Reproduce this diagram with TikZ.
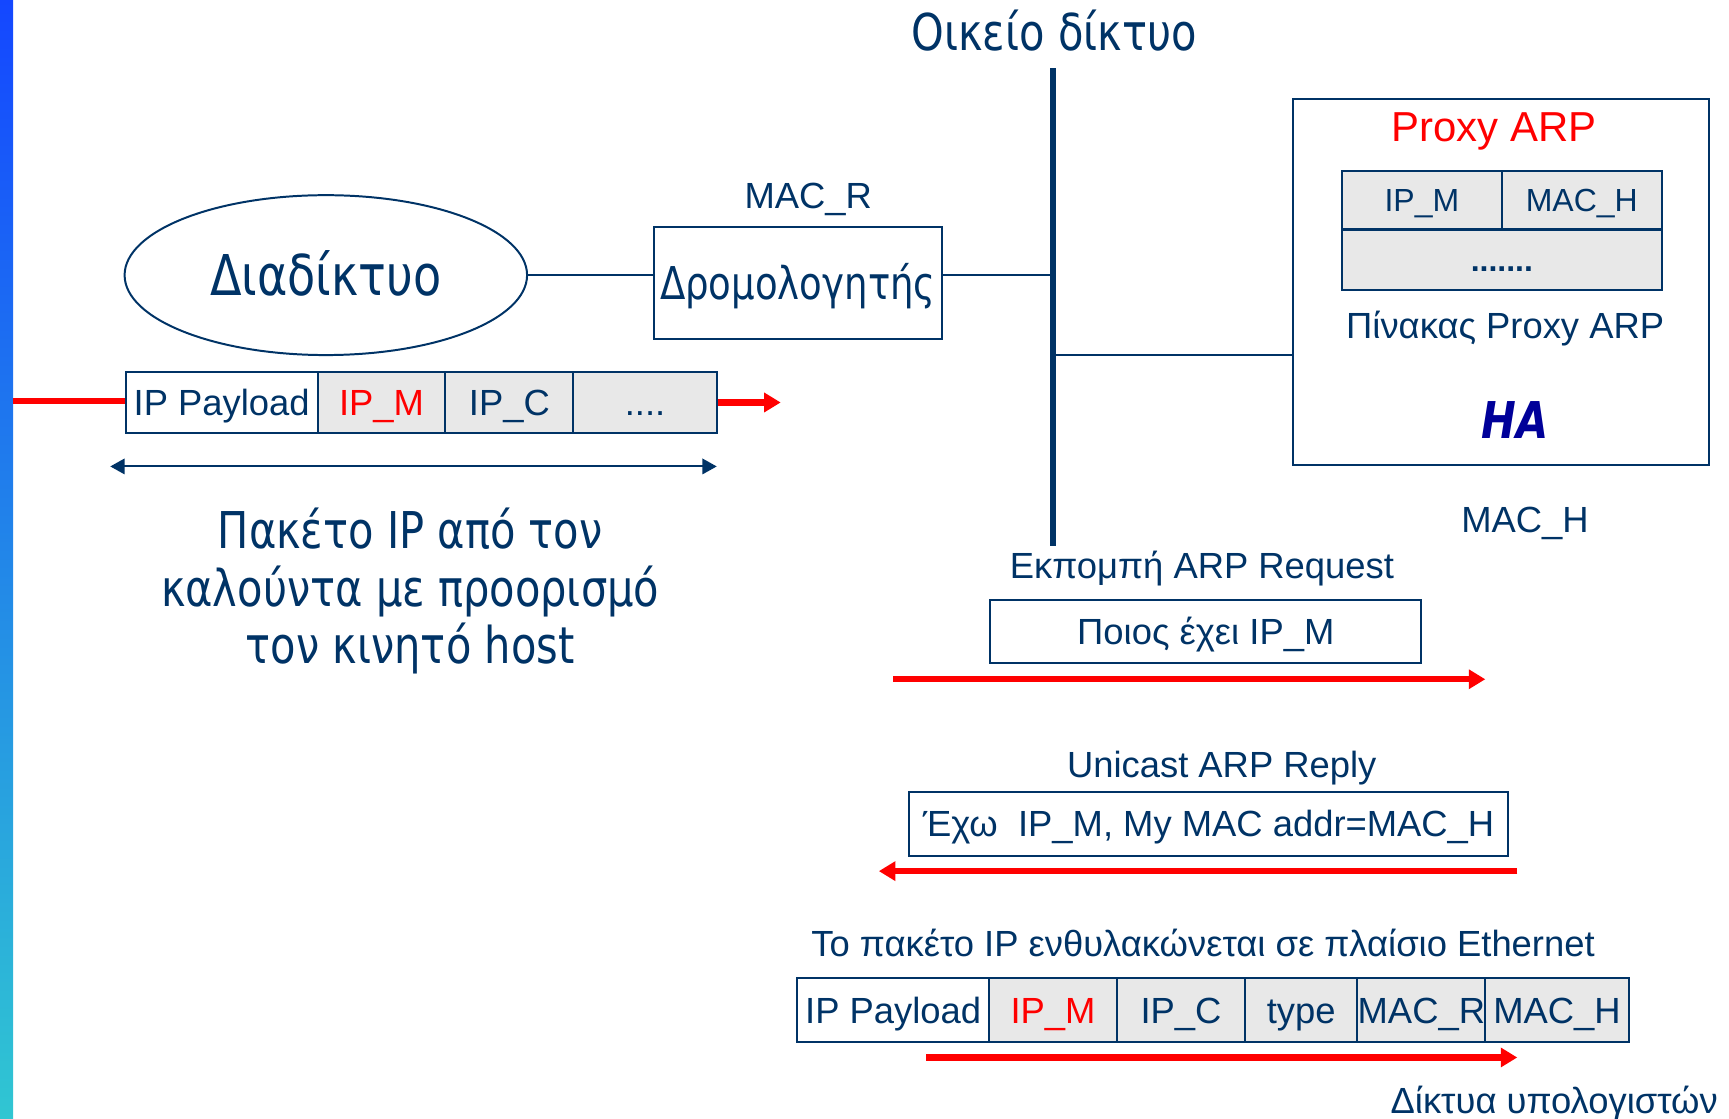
\documentclass[tikz,border=0pt]{standalone}
\usepackage{fontspec}
\setmainfont{Liberation Sans}
\newfontfamily\comic[FakeStretch=0.82]{DejaVu Sans}
\usetikzlibrary{shapes.geometric,arrows.meta}
\definecolor{navy}{HTML}{003366}
\definecolor{hablue}{HTML}{000099}
\definecolor{cellgray}{HTML}{E8E8E8}
\definecolor{barTop}{HTML}{1447FF}
\definecolor{barBot}{HTML}{30C6D2}
\newcommand\myfs[1]{\fontsize{#1}{#1}\selectfont}
\begin{document}
\begin{tikzpicture}[x=1pt,y=-1pt,
  every node/.style={text=navy},
  cell/.style={draw=navy, line width=1.8pt, inner sep=0pt, minimum height=56pt,
    font=\myfs{33}, text height=24pt, text depth=0pt},
  gcell/.style={cell, fill=cellgray},
  tcell/.style={draw=navy, line width=2.2pt, inner sep=0pt, fill=cellgray,
    font=\myfs{29}, text height=21pt, text depth=0pt},
  lab/.style={inner sep=0pt, font=\myfs{33}, text height=24pt, text depth=0pt},
  clab/.style={inner sep=0pt, font=\comic\myfs{46}, text height=33.5pt, text depth=0pt},
  conn/.style={draw=navy, line width=1.8pt},
  redline/.style={draw=red, line width=5.5pt},
  redarr/.style={draw=red, line width=5.5pt, -{Triangle[length=15pt,width=17pt]}},
  dblarr/.style={draw=navy, line width=1.8pt, {Triangle[length=13pt,width=14pt]}-{Triangle[length=13pt,width=14pt]}}
]
\useasboundingbox (0,0) rectangle (1568,1014);
% left gradient bar
\shade[top color=barTop, bottom color=barBot] (0,0) rectangle (12,1014);

% home network bus
\node[clab] (home) at (956,29) {Οικείο δίκτυο};
\coordinate (busT) at (955,62);
\coordinate (busB) at (955,495);
\draw[navy, line width=5pt] (busT) -- (busB);

% Internet ellipse and router
\node[ellipse, draw=navy, line width=1.8pt, minimum width=365pt, minimum height=145pt,
  inner sep=0pt, font=\comic\myfs{51}, text height=37pt, text depth=0pt] (net) at (295.5,249.5) {Διαδίκτυο};
\node[draw=navy, line width=1.8pt, minimum width=261pt, minimum height=101pt, inner sep=0pt,
  font=\comic\myfs{41}, text height=30pt, text depth=0pt] (router) at (723.5,256.5) {Δρομολογητής};
\node[lab] (macr) at (733,177) {MAC\_R};
\draw[conn] (net.east) -- (net.east -| router.west);
\draw[conn] (net.east -| router.east) -- (net.east -| busT);

% HA box
\node[draw=navy, line width=1.8pt, minimum width=377pt, minimum height=332pt, inner sep=0pt] (ha) at (1361.5,256) {};
\coordinate (hl) at (955,322);
\draw[conn] (hl) -- (hl -| ha.west);
\node[lab, font=\myfs{38}, text height=27pt, text=red] (proxy) at (1355,115) {Proxy ARP};
\node[tcell, minimum width=145pt, minimum height=53pt] (t1) at (1289.5,181.5) {IP\_M};
\node[tcell, minimum width=145pt, minimum height=53pt] (t2) at (1434.5,181.5) {MAC\_H};
\node[tcell, minimum width=290pt, minimum height=55pt, font=\bfseries\myfs{29}] (t3) at (1362,235.5) {.......};
\node[lab] (ptab) at (1365,295) {Πίνακας Proxy ARP};
\node[clab, font=\comic\bfseries\itshape\myfs{46}, text=hablue] (halab) at (1374,381) {HA};
\node[lab] (mach) at (1383,471) {MAC\_H};

% packet 1
\node[cell, minimum width=174pt] (c1) at (201,365) {IP Payload};
\node[gcell, minimum width=116pt, text=red] (c2) at (346,365) {IP\_M};
\node[gcell, minimum width=116pt] (c3) at (462,365) {IP\_C};
\node[gcell, minimum width=130pt] (c4) at (585,365) {....};
\coordinate (inL) at (12,364);
\coordinate (outR) at (708,365);
\draw[redline] (inL) -- (inL -| c1.west);
\draw[redarr] (c4.east) -- (outR);
\coordinate (dA) at (100,423);
\coordinate (dB) at (650,423);
\draw[dblarr] (dA) -- (dB);
\node[clab] (cap1) at (372,481) {Πακέτο IP από τον};
\node[clab] (cap2) at (372,533) {καλούντα με προορισμό};
\node[clab] (cap3) at (372,585) {τον κινητό host};

% ARP request
\node[lab] (reqlab) at (1090,513) {Εκπομπή ARP Request};
\node[cell, minimum width=391pt, minimum height=57pt] (req) at (1093.5,572.5) {Ποιος έχει IP\_M};
\coordinate (rqA) at (810,616);
\coordinate (rqB) at (1347,616);
\draw[redarr] (rqA) -- (rqB);

% ARP reply
\node[lab] (replab) at (1108,693) {Unicast ARP Reply};
\node[cell, minimum width=544pt, minimum height=58pt] (rep) at (1096,747) {Έχω\ \ IP\_M, My MAC addr=MAC\_H};
\coordinate (rpA) at (1376,790);
\coordinate (rpB) at (797,790);
\draw[redarr] (rpA) -- (rpB);

% Ethernet frame
\node[lab] (ethlab) at (1091,855) {Το πακέτο IP ενθυλακώνεται σε πλαίσιο Ethernet};
\node[cell, minimum width=174pt, minimum height=58pt] (d1) at (810,916) {IP Payload};
\node[gcell, minimum width=116pt, minimum height=58pt, text=red] (d2) at (955,916) {IP\_M};
\node[gcell, minimum width=116pt, minimum height=58pt] (d3) at (1071,916) {IP\_C};
\node[gcell, minimum width=102pt, minimum height=58pt] (d4) at (1180,916) {type};
\node[gcell, minimum width=116pt, minimum height=58pt] (d5) at (1289,916) {MAC\_R};
\node[gcell, minimum width=130pt, minimum height=58pt] (d6) at (1412,916) {MAC\_H};
\coordinate (ethA) at (840,959);
\coordinate (ethB) at (1376,959);
\draw[redarr] (ethA) -- (ethB);

\node[lab, anchor=east] (footer) at (1558,998) {Δίκτυα υπολογιστών};
\end{tikzpicture}
\end{document}
